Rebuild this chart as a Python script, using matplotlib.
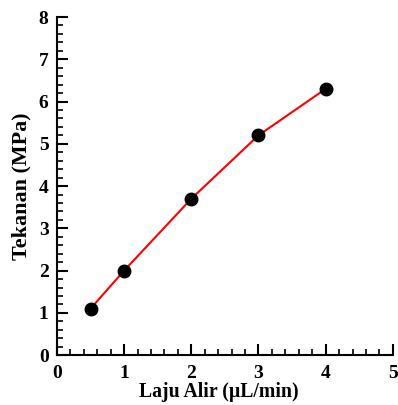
import numpy as np
import matplotlib
matplotlib.use('Agg')
import matplotlib.pyplot as plt
from matplotlib.ticker import MultipleLocator

# data
laju_alir = [0.5, 1, 2, 3, 4]
tekanan = [1.1, 2.0, 3.7, 5.2, 6.3]

plt.rcParams['font.family'] = 'Liberation Serif'
plt.rcParams['font.weight'] = 'bold'

fig = plt.figure(figsize=(3.98, 4.05), dpi=100)
ax = fig.add_axes([0.143, 0.123, 0.844, 0.835])

ax.plot(laju_alir, tekanan, color='red', lw=1.5, zorder=2)
ax.plot(laju_alir, tekanan, 'o', color='black', ms=9, zorder=3)

ax.set_xlim(0, 5)
ax.set_ylim(0, 8)
ax.xaxis.set_major_locator(MultipleLocator(1))
ax.xaxis.set_minor_locator(MultipleLocator(0.2))
ax.yaxis.set_major_locator(MultipleLocator(1))
ax.yaxis.set_minor_locator(MultipleLocator(0.2))

for s in ['top', 'right']:
    ax.spines[s].set_visible(False)
for s in ['left', 'bottom']:
    ax.spines[s].set_linewidth(1.5)

ax.tick_params(which='major', direction='in', length=8, width=1.5, labelsize=14)
ax.tick_params(axis='x', which='major', pad=7)
ax.tick_params(axis='y', which='major', pad=6)
ax.tick_params(which='minor', direction='in', length=4, width=1.2)

ax.set_xlabel('Laju Alir (\u00b5L/min)', fontsize=14.2, fontweight='bold')
ax.xaxis.set_label_coords(0.482, -0.078)
ax.set_ylabel('Tekanan (MPa)', fontsize=15.8, fontweight='bold', labelpad=5)

fig.savefig('out.png', dpi=100)
